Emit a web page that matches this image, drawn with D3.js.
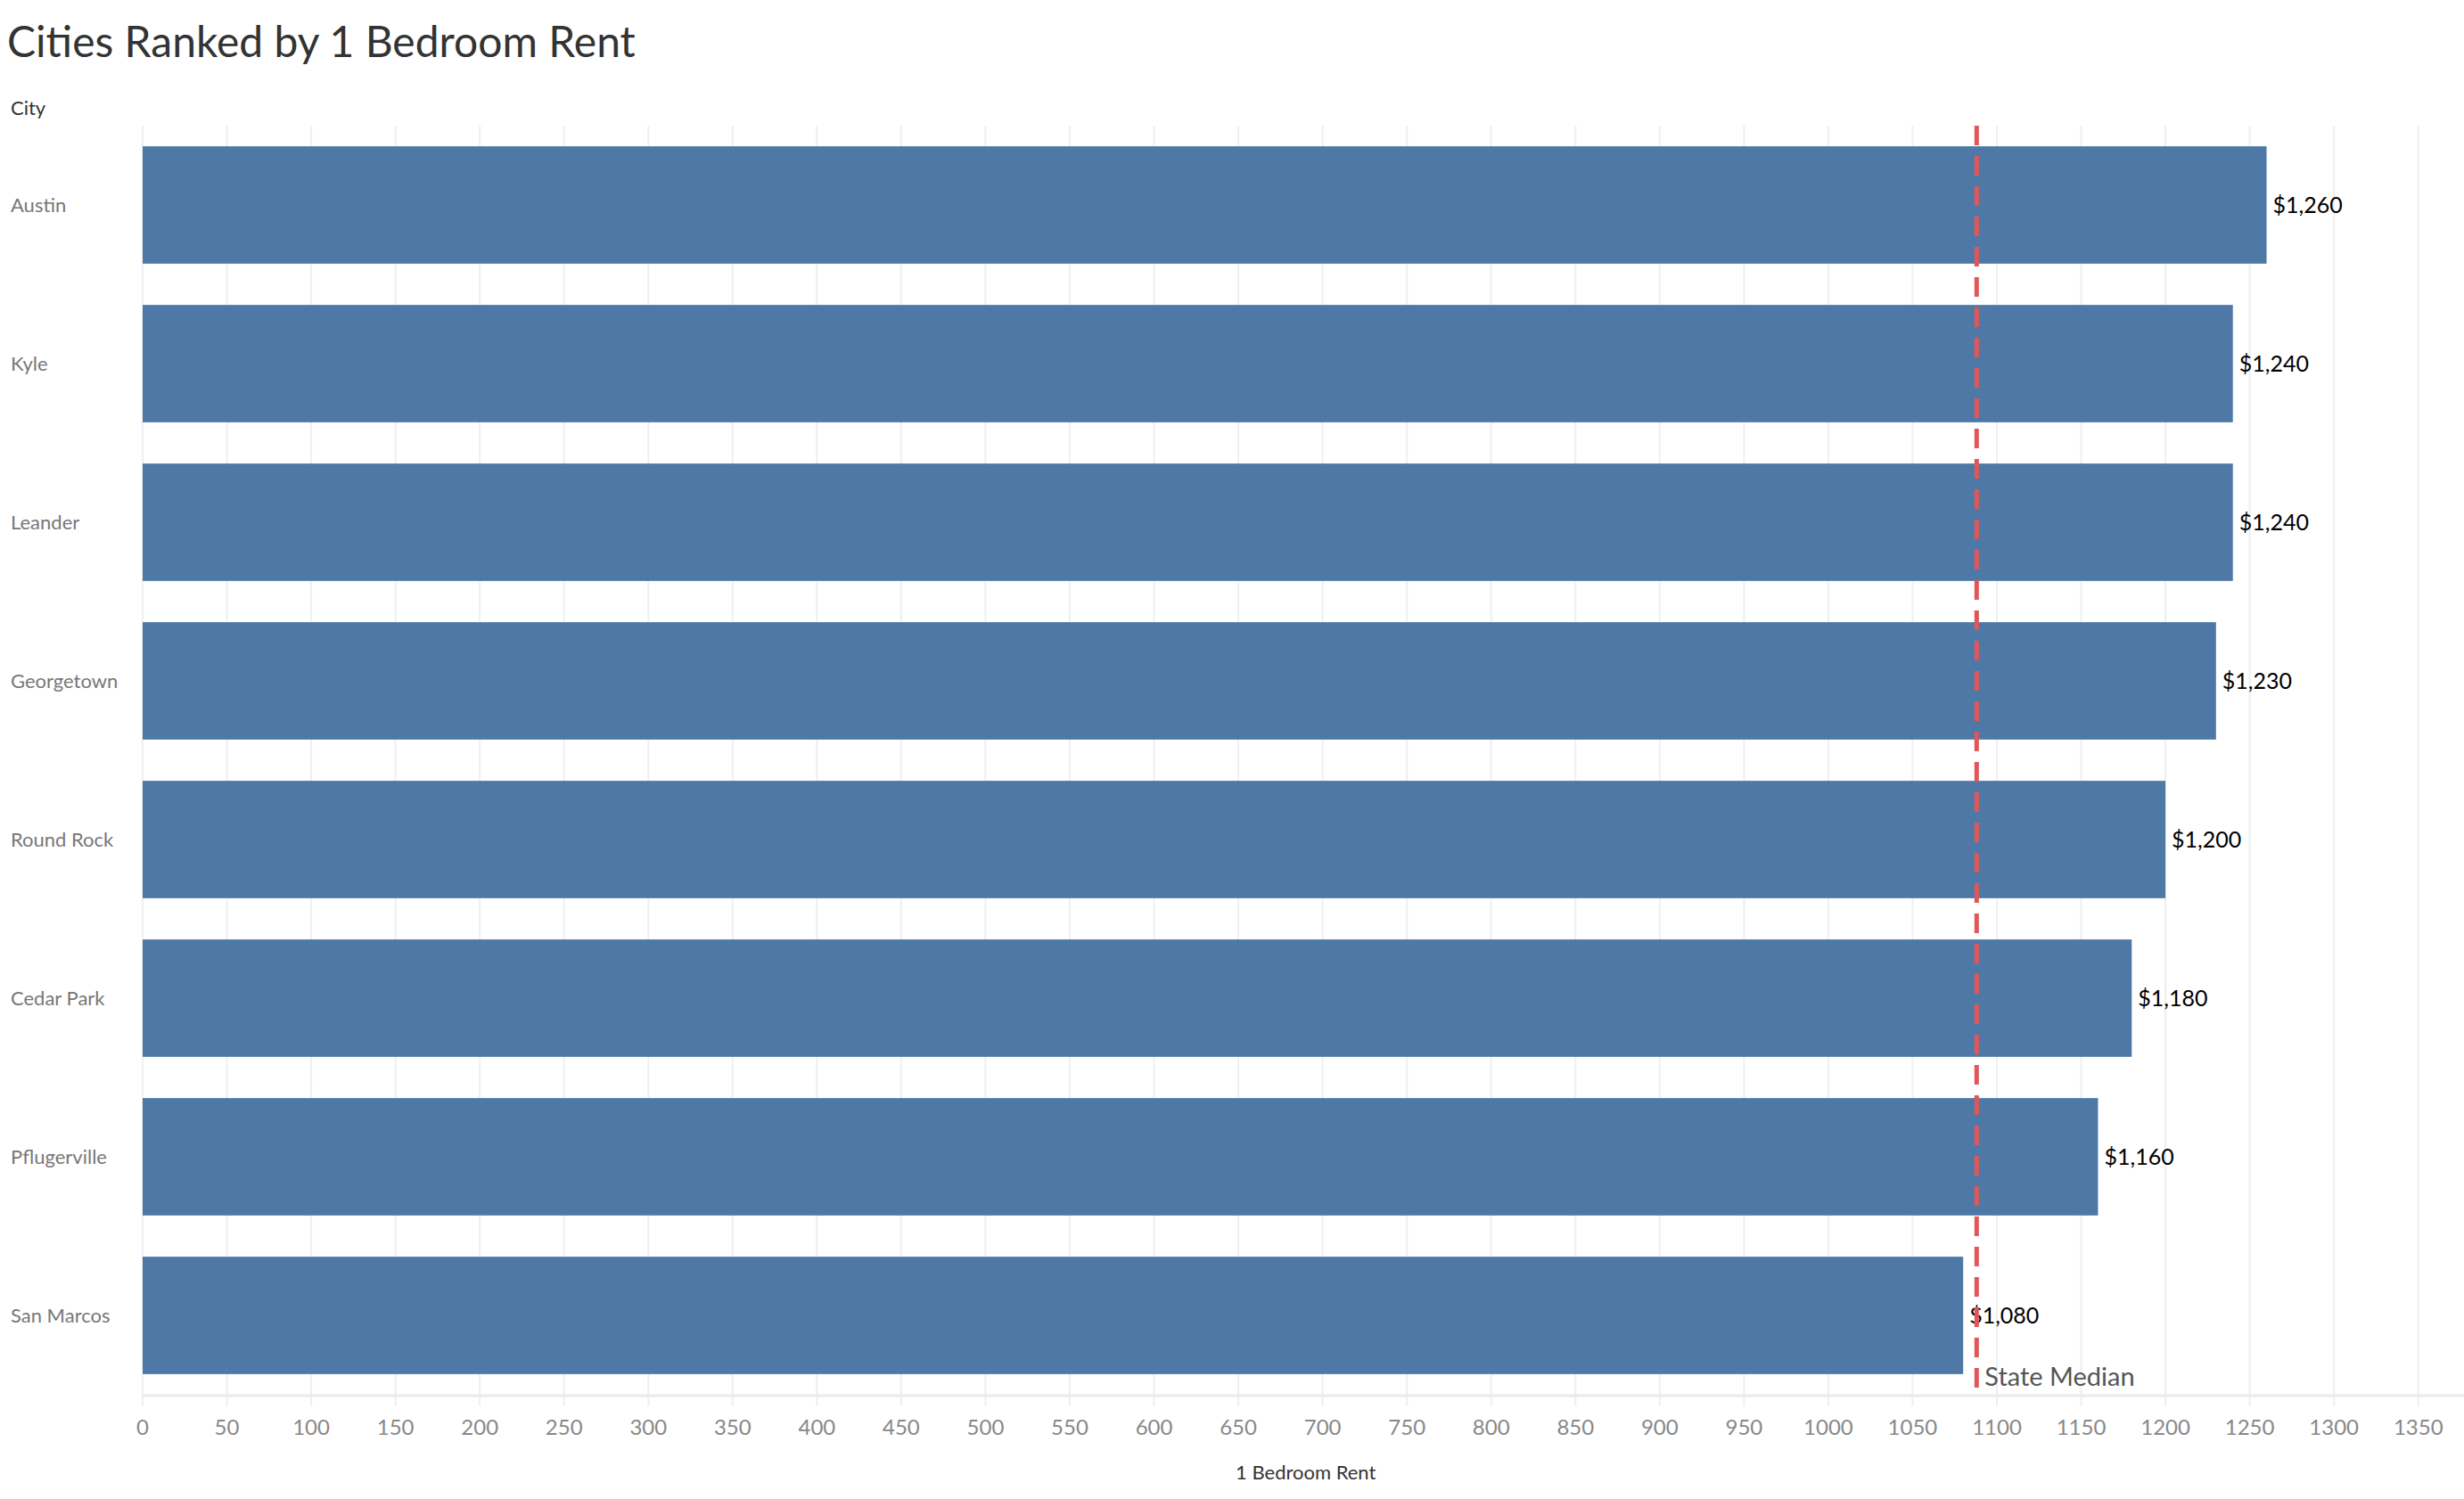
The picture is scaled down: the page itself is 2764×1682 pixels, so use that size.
<!DOCTYPE html>
<html><head><meta charset="utf-8">
<script src="https://cdn.jsdelivr.net/npm/d3@7"></script>
<style>body{margin:0;background:#fff;font-family:Lato,"Noto Sans",sans-serif}</style>
</head><body><svg id="c" width="2764" height="1682"></svg>
<script>
const cities = ["Austin","Kyle","Leander","Georgetown","Round Rock","Cedar Park","Pflugerville","San Marcos"];
const rents = [1260,1240,1240,1230,1200,1180,1160,1080];
const tickValues = d3.range(0,1351,50);
const stateMedian = 1088;

const svg = d3.select("#c");
const x = d3.scaleLinear().domain([0,1375]).range([160,2760]);
const y = d3.scaleBand().domain(cities).range([141,1565]).paddingInner(0.26).paddingOuter(0.13);

svg.append("text").attr("x",8).attr("y",64).attr("font-size",48).attr("fill","#333").text("Cities Ranked by 1 Bedroom Rent");
svg.append("text").attr("x",12).attr("y",129).attr("font-size",22).attr("fill","#333").text("City");

svg.append("g").selectAll("line").data(tickValues).join("line")
  .attr("x1",d=>x(d)).attr("x2",d=>x(d)).attr("y1",141).attr("y2",1578)
  .attr("stroke","#efefef").attr("stroke-width",2);
svg.append("line").attr("x1",160).attr("x2",2764).attr("y1",1566).attr("y2",1566).attr("stroke","#eaeaea").attr("stroke-width",3);

svg.append("g").selectAll("rect").data(cities).join("rect")
  .attr("x",x(0)).attr("y",d=>y(d)).attr("height",y.bandwidth())
  .attr("width",(d,i)=>x(rents[i])-x(0)).attr("fill","#4e79a7");

svg.append("g").selectAll("text").data(cities).join("text")
  .attr("x",12).attr("y",d=>y(d)+y.bandwidth()/2).attr("dy","0.35em")
  .attr("font-size",22).attr("fill","#777").text(d=>d);

svg.append("g").selectAll("text").data(cities).join("text")
  .attr("x",(d,i)=>x(rents[i])+7).attr("y",d=>y(d)+y.bandwidth()/2).attr("dy","0.35em")
  .attr("font-size",25).attr("fill","#000").text((d,i)=>d3.format("$,")(rents[i]));

svg.append("line").attr("x1",x(stateMedian)).attr("x2",x(stateMedian)).attr("y1",141).attr("y2",1565)
  .attr("stroke","#e15759").attr("stroke-width",5).attr("stroke-dasharray","22,12");
svg.append("text").attr("x",x(stateMedian)+9).attr("y",1555).attr("font-size",29).attr("fill","#555").text("State Median");

svg.append("g").selectAll("text").data(tickValues).join("text")
  .attr("x",d=>x(d)).attr("y",1610).attr("text-anchor","middle")
  .attr("font-size",24).attr("fill","#888").text(d=>d);
svg.append("text").attr("x",x(690)).attr("y",1660).attr("text-anchor","middle")
  .attr("font-size",22).attr("fill","#333").text("1 Bedroom Rent");
</script></body></html>
